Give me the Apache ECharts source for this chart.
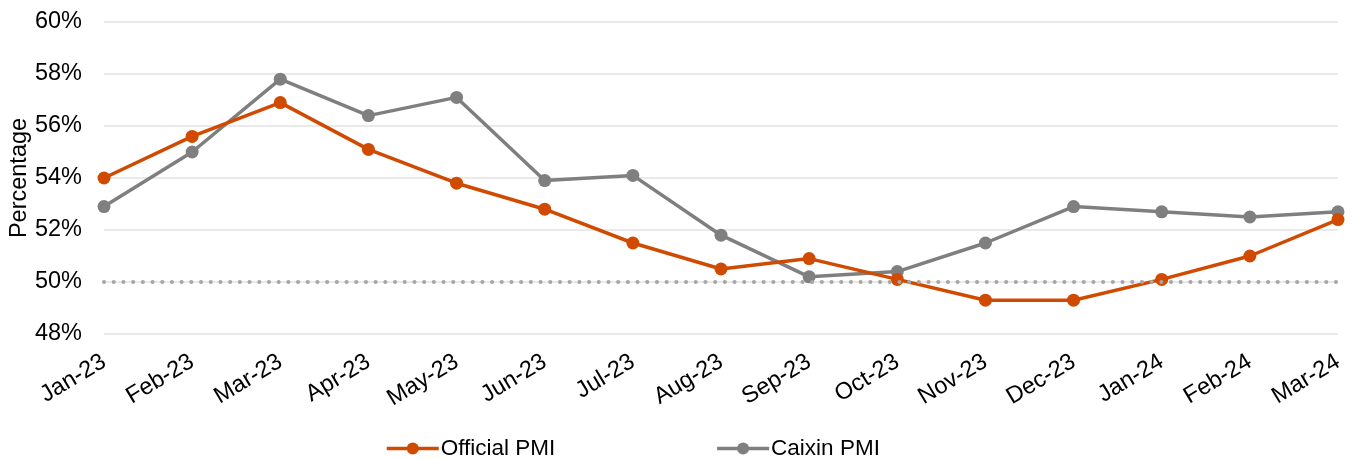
<!DOCTYPE html>
<html>
<head>
<meta charset="utf-8">
<script src="https://cdn.jsdelivr.net/npm/echarts@6/dist/echarts.min.js"></script>
<style>
html,body{margin:0;padding:0;background:#fff;}
#chart{width:1355px;height:459px;}
</style>
</head>
<body>
<div id="chart"></div>
<script>
const categories = ['Jan-23','Feb-23','Mar-23','Apr-23','May-23','Jun-23','Jul-23','Aug-23','Sep-23','Oct-23','Nov-23','Dec-23','Jan-24','Feb-24','Mar-24'];
const officialPMI = [54.0,55.6,56.9,55.1,53.8,52.8,51.5,50.5,50.9,50.1,49.3,49.3,50.1,51.0,52.4];
const caixinPMI = [52.9,55.0,57.8,56.4,57.1,53.9,54.1,51.8,50.2,50.4,51.5,52.9,52.7,52.5,52.7];
const yTicks = [48,50,52,54,56,58,60];
const referenceLevel = 50;

const font = '"Liberation Sans", Arial, sans-serif';
const fs = 23.5;
const chart = echarts.init(document.getElementById('chart'), null, {renderer:'canvas'});
chart.setOption({
  animation:false,
  textStyle:{fontFamily:font},
  grid:{left:104,right:17,top:22,bottom:125,containLabel:false,outerBoundsMode:'none'},
  legend:{
    data:['Official PMI','Caixin PMI'],
    left:380, top:432,
    itemWidth:52, itemHeight:15, itemGap:160,
    lineStyle:{width:3.5},
    textStyle:{fontFamily:font,fontSize:22.5,color:'#000',padding:[0,0,0,-3]}
  },
  xAxis:{
    type:'category', data:categories, boundaryGap:false,
    axisLine:{show:false}, axisTick:{show:false},
    axisLabel:{rotate:31,fontSize:fs,color:'#000',fontFamily:font,margin:26,interval:0}
  },
  yAxis:{
    type:'value', min:yTicks[0], max:yTicks[yTicks.length-1], interval:2,
    name:'Percentage', nameLocation:'middle', nameGap:72, nameRotate:90,
    nameMoveOverlap:false,
    nameTextStyle:{fontSize:fs,color:'#000',fontFamily:font},
    axisLine:{show:false}, axisTick:{show:false},
    axisLabel:{formatter:'{value}%',fontSize:fs,color:'#000',fontFamily:font,margin:22},
    splitLine:{lineStyle:{color:'#e3e3e3',width:1.5}}
  },
  series:[
    {
      name:'ref', type:'line', data:[], z:1, silent:true,
      markLine:{
        silent:true, symbol:['none','none'], label:{show:false},
        lineStyle:{color:'#a6a6a6',width:4,type:[0.1,9.6],cap:'round'},
        emphasis:{disabled:true},
        data:[{yAxis:referenceLevel}]
      }
    },
    {
      name:'Official PMI', type:'line', data:officialPMI, z:3,
      symbol:'circle', symbolSize:13,
      itemStyle:{color:'#D04A02'},
      lineStyle:{color:'#D04A02',width:3.5}
    },
    {
      name:'Caixin PMI', type:'line', data:caixinPMI, z:2,
      symbol:'circle', symbolSize:13,
      itemStyle:{color:'#7F7F7F'},
      lineStyle:{color:'#7F7F7F',width:3.5}
    }
  ]
});
</script>
</body>
</html>
